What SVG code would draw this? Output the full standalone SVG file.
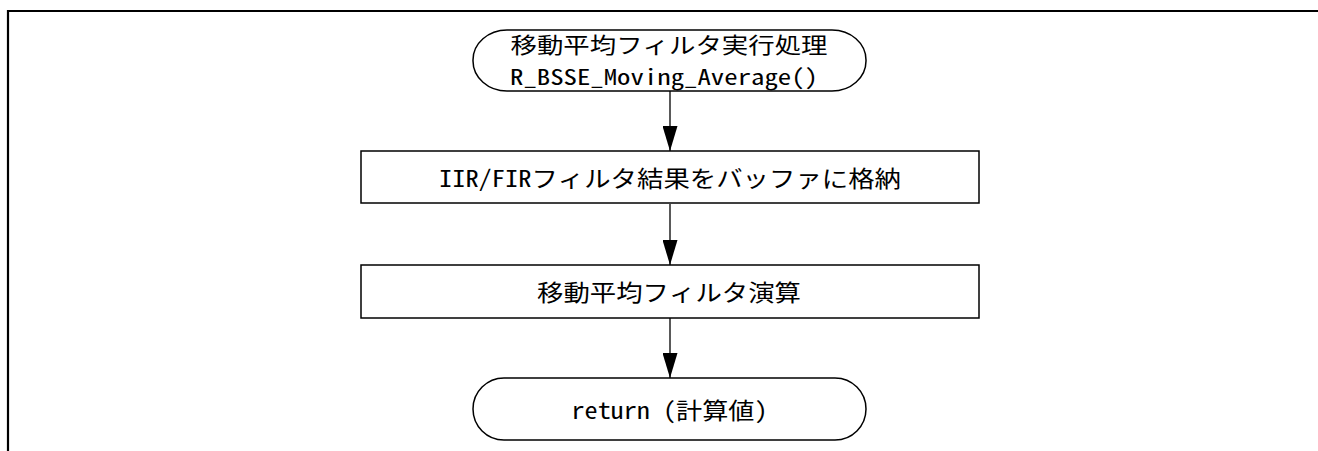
<svg xmlns="http://www.w3.org/2000/svg" width="1318" height="451" viewBox="0 0 1318 451">
<style>
.shape{fill:#fff;stroke:#000;stroke-width:1.5}
.lbl{font-family:"Noto Sans Mono CJK JP","Liberation Mono","Noto Sans CJK JP",monospace;font-size:23px;fill:#000;text-anchor:middle}
.sm{font-size:22px}
.conn{stroke:#000;stroke-width:1.3;fill:none}
</style>
<defs>
<marker id="ah" markerUnits="userSpaceOnUse" markerWidth="25" markerHeight="15" refX="25" refY="7.5" orient="auto" viewBox="0 0 25 15">
<path d="M0,0 L25,7.5 L0,15 Z" fill="#000"/>
</marker>
</defs>
<rect width="1318" height="451" fill="#fff"/>
<g id="frame">
<path d="M8,451 V11 H1318" fill="none" stroke="#000" stroke-width="2.2"/>
</g>
<g id="connectors">
<line class="conn" x1="670" y1="91" x2="670" y2="151" marker-end="url(#ah)"/>
<line class="conn" x1="670" y1="204" x2="670" y2="265" marker-end="url(#ah)"/>
<line class="conn" x1="670" y1="318" x2="670" y2="378" marker-end="url(#ah)"/>
</g>
<g id="start">
<rect class="shape" x="473" y="30" width="393" height="61" rx="34" ry="30"/>
<text class="lbl sm" x="669" y="53" textLength="317" lengthAdjust="spacingAndGlyphs">移動平均フィルタ実行処理</text>
<text class="lbl sm" x="664" y="85" textLength="308" lengthAdjust="spacingAndGlyphs">R_BSSE_Moving_Average()</text>
</g>
<g id="store">
<rect class="shape" x="361" y="151" width="618" height="52"/>
<text class="lbl" x="670" y="187" textLength="462" lengthAdjust="spacingAndGlyphs">IIR/FIRフィルタ結果をバッファに格納</text>
</g>
<g id="calc">
<rect class="shape" x="361" y="265" width="618" height="53"/>
<text class="lbl" x="669" y="301" textLength="264" lengthAdjust="spacingAndGlyphs">移動平均フィルタ演算</text>
</g>
<g id="end">
<rect class="shape" x="473" y="378" width="393" height="62" rx="31" ry="31"/>
<text class="lbl" x="669.5" y="419" textLength="196" lengthAdjust="spacingAndGlyphs">return (計算値)</text>
</g>
</svg>
